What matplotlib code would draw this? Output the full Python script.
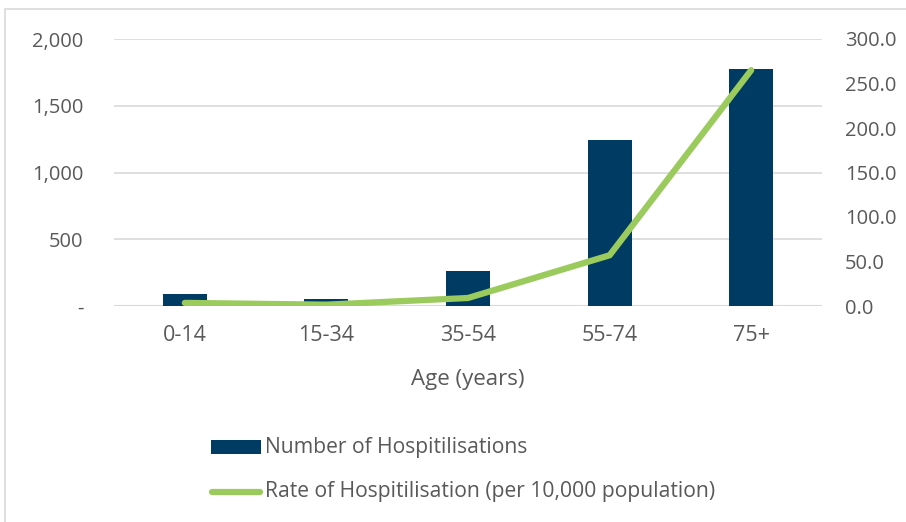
import matplotlib
matplotlib.use("Agg")
import matplotlib.pyplot as plt
from matplotlib.ticker import FuncFormatter
from matplotlib.patches import Rectangle
from matplotlib.lines import Line2D

categories = ["0-14", "15-34", "35-54", "55-74", "75+"]
hospitalisations = [90, 55, 262, 1243, 1775]
rate = [3.5, 1.5, 9.0, 57.0, 265.0]

W, H = 906, 522
fig = plt.figure(figsize=(W/100, H/100), dpi=100)
plt.rcParams['font.family'] = ['Open Sans', 'DejaVu Sans']
ax = fig.add_axes([114/W, 1-306/H, (822-114)/W, (306-39)/H])
ax2 = ax.twinx()

navy = "#003B64"
green = "#9BCB5C"
txt = "#595959"
fs = 14.5

x = list(range(len(categories)))
ax.bar(x, hospitalisations, width=0.31, color=navy, zorder=3)
ax2.plot(x, rate, color=green, lw=4.5, solid_capstyle='round', zorder=4)

ax.set_xlim(-0.5, 4.5)
ax.set_ylim(0, 2000)
ax2.set_ylim(0, 300)
ax.set_yticks([0, 500, 1000, 1500, 2000])
ax2.set_yticks([0, 50, 100, 150, 200, 250, 300])
ax.yaxis.set_major_formatter(FuncFormatter(lambda v, p: "-" if v == 0 else f"{int(v):,}"))
ax2.yaxis.set_major_formatter(FuncFormatter(lambda v, p: f"{v:.1f}"))
ax.set_xticks(x)
ax.set_xticklabels(categories)

for a in (ax, ax2):
    for s in a.spines.values():
        s.set_visible(False)
    a.tick_params(length=0, labelsize=fs, colors=txt)
ax.tick_params(axis='y', pad=22)
ax2.tick_params(axis='y', pad=16.5)
ax.tick_params(axis='x', pad=14, labelsize=15.5)
ax.yaxis.grid(True, color="#D9D9D9", lw=1.2, zorder=0)
ax.set_axisbelow(True)
ax.axhline(0, color="#D9D9D9", lw=1.5, zorder=2)
fig.text(468/W, 1-379/H, "Age (years)", fontsize=16, color=txt, ha='center', va='center')

# chart border
fig.patches.append(Rectangle((5/W, -0.1), 1.1, (1-9/H)+0.1, transform=fig.transFigure,
                             fill=False, ec="#D9D9D9", lw=1.2))

# legend
fig.patches.append(Rectangle((211/W, 1-454/H), 50/W, 14/H, transform=fig.transFigure,
                             fc=navy, ec='none'))
fig.text(265/W, 1-447/H, "Number of Hospitilisations", fontsize=15.2, color=txt, va='center')
fig.add_artist(Line2D([212/W, 260/W], [1-492/H, 1-492/H], transform=fig.transFigure,
                      color=green, lw=4.5, solid_capstyle='round'))
fig.text(265/W, 1-492/H, "Rate of Hospitilisation (per 10,000 population)", fontsize=15.2,
         color=txt, va='center')

fig.savefig("out.png", dpi=100)
